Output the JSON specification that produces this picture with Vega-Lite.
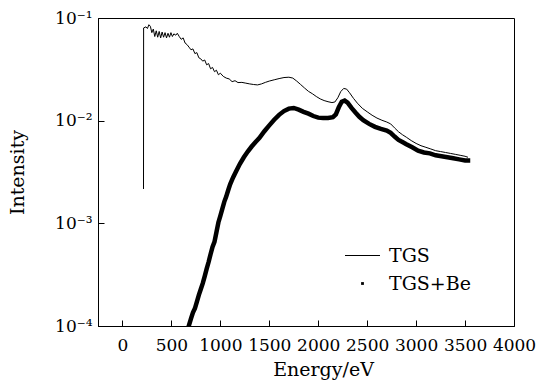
{
  "$schema": "https://vega.github.io/schema/vega-lite/v6.json",
  "width": 416,
  "height": 308,
  "autosize": {"type": "none"},
  "padding": {"left": 98, "top": 18, "right": 23, "bottom": 55},
  "background": "white",
  "config": {
    "view": {"stroke": "black", "strokeWidth": 1},
    "axis": {
      "grid": false,
      "domainColor": "black",
      "tickColor": "black",
      "tickSize": -6,
      "labelFont": "DejaVu Serif",
      "labelFontSize": 17,
      "labelColor": "black",
      "titleFont": "DejaVu Serif",
      "titleFontSize": 19,
      "titleFontWeight": "normal",
      "titleColor": "black",
      "labelFlush": false,
      "labelOverlap": false,
      "labelBound": false
    },
    "legend": {
      "labelFont": "DejaVu Serif",
      "labelFontSize": 19,
      "labelColor": "black"
    }
  },
  "datasets": {
    "spectra": [
      {"series": "TGS", "energy": 215, "intensity": 0.00216},
      {"series": "TGS", "energy": 216, "intensity": 0.080},
      {"series": "TGS", "energy": 240, "intensity": 0.082},
      {"series": "TGS", "energy": 255, "intensity": 0.079},
      {"series": "TGS", "energy": 270, "intensity": 0.086},
      {"series": "TGS", "energy": 285, "intensity": 0.083},
      {"series": "TGS", "energy": 300, "intensity": 0.072},
      {"series": "TGS", "energy": 315, "intensity": 0.078},
      {"series": "TGS", "energy": 330, "intensity": 0.066},
      {"series": "TGS", "energy": 345, "intensity": 0.075},
      {"series": "TGS", "energy": 360, "intensity": 0.065},
      {"series": "TGS", "energy": 375, "intensity": 0.074},
      {"series": "TGS", "energy": 390, "intensity": 0.064},
      {"series": "TGS", "energy": 405, "intensity": 0.073},
      {"series": "TGS", "energy": 420, "intensity": 0.065},
      {"series": "TGS", "energy": 435, "intensity": 0.072},
      {"series": "TGS", "energy": 450, "intensity": 0.064},
      {"series": "TGS", "energy": 465, "intensity": 0.071},
      {"series": "TGS", "energy": 480, "intensity": 0.065},
      {"series": "TGS", "energy": 495, "intensity": 0.072},
      {"series": "TGS", "energy": 510, "intensity": 0.066},
      {"series": "TGS", "energy": 525, "intensity": 0.070},
      {"series": "TGS", "energy": 545, "intensity": 0.068},
      {"series": "TGS", "energy": 560, "intensity": 0.071},
      {"series": "TGS", "energy": 580, "intensity": 0.066},
      {"series": "TGS", "energy": 600, "intensity": 0.062},
      {"series": "TGS", "energy": 620, "intensity": 0.064},
      {"series": "TGS", "energy": 640, "intensity": 0.057},
      {"series": "TGS", "energy": 660, "intensity": 0.055},
      {"series": "TGS", "energy": 680, "intensity": 0.052},
      {"series": "TGS", "energy": 700, "intensity": 0.049},
      {"series": "TGS", "energy": 720, "intensity": 0.050},
      {"series": "TGS", "energy": 740, "intensity": 0.045},
      {"series": "TGS", "energy": 760, "intensity": 0.046},
      {"series": "TGS", "energy": 780, "intensity": 0.041},
      {"series": "TGS", "energy": 800, "intensity": 0.040},
      {"series": "TGS", "energy": 820, "intensity": 0.038},
      {"series": "TGS", "energy": 840, "intensity": 0.039},
      {"series": "TGS", "energy": 860, "intensity": 0.035},
      {"series": "TGS", "energy": 880, "intensity": 0.036},
      {"series": "TGS", "energy": 900, "intensity": 0.032},
      {"series": "TGS", "energy": 920, "intensity": 0.033},
      {"series": "TGS", "energy": 940, "intensity": 0.030},
      {"series": "TGS", "energy": 960, "intensity": 0.031},
      {"series": "TGS", "energy": 980, "intensity": 0.028},
      {"series": "TGS", "energy": 1000, "intensity": 0.029},
      {"series": "TGS", "energy": 1030, "intensity": 0.027},
      {"series": "TGS", "energy": 1060, "intensity": 0.026},
      {"series": "TGS", "energy": 1090, "intensity": 0.0255},
      {"series": "TGS", "energy": 1120, "intensity": 0.024},
      {"series": "TGS", "energy": 1150, "intensity": 0.0245},
      {"series": "TGS", "energy": 1180, "intensity": 0.0235},
      {"series": "TGS", "energy": 1220, "intensity": 0.0236},
      {"series": "TGS", "energy": 1260, "intensity": 0.0232},
      {"series": "TGS", "energy": 1300, "intensity": 0.0228},
      {"series": "TGS", "energy": 1340, "intensity": 0.0225},
      {"series": "TGS", "energy": 1380, "intensity": 0.0223},
      {"series": "TGS", "energy": 1420, "intensity": 0.0228},
      {"series": "TGS", "energy": 1460, "intensity": 0.0236},
      {"series": "TGS", "energy": 1500, "intensity": 0.0243},
      {"series": "TGS", "energy": 1550, "intensity": 0.025},
      {"series": "TGS", "energy": 1600, "intensity": 0.0257},
      {"series": "TGS", "energy": 1650, "intensity": 0.0263},
      {"series": "TGS", "energy": 1700, "intensity": 0.0265},
      {"series": "TGS", "energy": 1740, "intensity": 0.026},
      {"series": "TGS", "energy": 1780, "intensity": 0.0243},
      {"series": "TGS", "energy": 1820, "intensity": 0.0225},
      {"series": "TGS", "energy": 1860, "intensity": 0.0208},
      {"series": "TGS", "energy": 1900, "intensity": 0.0193},
      {"series": "TGS", "energy": 1940, "intensity": 0.0183},
      {"series": "TGS", "energy": 1980, "intensity": 0.0172},
      {"series": "TGS", "energy": 2020, "intensity": 0.0163},
      {"series": "TGS", "energy": 2060, "intensity": 0.0157},
      {"series": "TGS", "energy": 2100, "intensity": 0.0153},
      {"series": "TGS", "energy": 2140, "intensity": 0.015},
      {"series": "TGS", "energy": 2170, "intensity": 0.0152},
      {"series": "TGS", "energy": 2200, "intensity": 0.0167},
      {"series": "TGS", "energy": 2230, "intensity": 0.0192},
      {"series": "TGS", "energy": 2260, "intensity": 0.0206},
      {"series": "TGS", "energy": 2290, "intensity": 0.0203},
      {"series": "TGS", "energy": 2320, "intensity": 0.0187},
      {"series": "TGS", "energy": 2360, "intensity": 0.0165},
      {"series": "TGS", "energy": 2400, "intensity": 0.0148},
      {"series": "TGS", "energy": 2450, "intensity": 0.0132},
      {"series": "TGS", "energy": 2500, "intensity": 0.0122},
      {"series": "TGS", "energy": 2550, "intensity": 0.0113},
      {"series": "TGS", "energy": 2600, "intensity": 0.0106},
      {"series": "TGS", "energy": 2650, "intensity": 0.0101},
      {"series": "TGS", "energy": 2700, "intensity": 0.0097},
      {"series": "TGS", "energy": 2740, "intensity": 0.0093},
      {"series": "TGS", "energy": 2780, "intensity": 0.0085},
      {"series": "TGS", "energy": 2820, "intensity": 0.0078},
      {"series": "TGS", "energy": 2860, "intensity": 0.0073},
      {"series": "TGS", "energy": 2900, "intensity": 0.0069},
      {"series": "TGS", "energy": 2950, "intensity": 0.0064},
      {"series": "TGS", "energy": 3000, "intensity": 0.0060},
      {"series": "TGS", "energy": 3050, "intensity": 0.0057},
      {"series": "TGS", "energy": 3100, "intensity": 0.0055},
      {"series": "TGS", "energy": 3150, "intensity": 0.0053},
      {"series": "TGS", "energy": 3200, "intensity": 0.0051},
      {"series": "TGS", "energy": 3250, "intensity": 0.0050},
      {"series": "TGS", "energy": 3300, "intensity": 0.0049},
      {"series": "TGS", "energy": 3350, "intensity": 0.0048},
      {"series": "TGS", "energy": 3400, "intensity": 0.0047},
      {"series": "TGS", "energy": 3450, "intensity": 0.0046},
      {"series": "TGS", "energy": 3500, "intensity": 0.0045},
      {"series": "TGS", "energy": 3530, "intensity": 0.0044},
      {"series": "TGS+Be", "energy": 670, "intensity": 0.000095},
      {"series": "TGS+Be", "energy": 700, "intensity": 0.000118},
      {"series": "TGS+Be", "energy": 720, "intensity": 0.000135},
      {"series": "TGS+Be", "energy": 740, "intensity": 0.000148},
      {"series": "TGS+Be", "energy": 760, "intensity": 0.000172},
      {"series": "TGS+Be", "energy": 780, "intensity": 0.0002},
      {"series": "TGS+Be", "energy": 800, "intensity": 0.000228},
      {"series": "TGS+Be", "energy": 820, "intensity": 0.00026},
      {"series": "TGS+Be", "energy": 840, "intensity": 0.000305},
      {"series": "TGS+Be", "energy": 860, "intensity": 0.00036},
      {"series": "TGS+Be", "energy": 880, "intensity": 0.00042},
      {"series": "TGS+Be", "energy": 900, "intensity": 0.0005},
      {"series": "TGS+Be", "energy": 920, "intensity": 0.00059},
      {"series": "TGS+Be", "energy": 940, "intensity": 0.00066},
      {"series": "TGS+Be", "energy": 960, "intensity": 0.00082},
      {"series": "TGS+Be", "energy": 980, "intensity": 0.00102},
      {"series": "TGS+Be", "energy": 1000, "intensity": 0.00118},
      {"series": "TGS+Be", "energy": 1020, "intensity": 0.00138},
      {"series": "TGS+Be", "energy": 1040, "intensity": 0.00162},
      {"series": "TGS+Be", "energy": 1060, "intensity": 0.00182},
      {"series": "TGS+Be", "energy": 1080, "intensity": 0.0021},
      {"series": "TGS+Be", "energy": 1100, "intensity": 0.0024},
      {"series": "TGS+Be", "energy": 1130, "intensity": 0.0028},
      {"series": "TGS+Be", "energy": 1160, "intensity": 0.0032},
      {"series": "TGS+Be", "energy": 1200, "intensity": 0.0038},
      {"series": "TGS+Be", "energy": 1240, "intensity": 0.0044},
      {"series": "TGS+Be", "energy": 1280, "intensity": 0.005},
      {"series": "TGS+Be", "energy": 1320, "intensity": 0.0056},
      {"series": "TGS+Be", "energy": 1360, "intensity": 0.0062},
      {"series": "TGS+Be", "energy": 1400, "intensity": 0.0068},
      {"series": "TGS+Be", "energy": 1450, "intensity": 0.0079},
      {"series": "TGS+Be", "energy": 1500, "intensity": 0.009},
      {"series": "TGS+Be", "energy": 1550, "intensity": 0.0102},
      {"series": "TGS+Be", "energy": 1600, "intensity": 0.0114},
      {"series": "TGS+Be", "energy": 1650, "intensity": 0.0124},
      {"series": "TGS+Be", "energy": 1700, "intensity": 0.0131},
      {"series": "TGS+Be", "energy": 1750, "intensity": 0.0133},
      {"series": "TGS+Be", "energy": 1800, "intensity": 0.0128},
      {"series": "TGS+Be", "energy": 1850, "intensity": 0.0122},
      {"series": "TGS+Be", "energy": 1900, "intensity": 0.0117},
      {"series": "TGS+Be", "energy": 1950, "intensity": 0.0111},
      {"series": "TGS+Be", "energy": 2000, "intensity": 0.0107},
      {"series": "TGS+Be", "energy": 2050, "intensity": 0.0106},
      {"series": "TGS+Be", "energy": 2100, "intensity": 0.0106},
      {"series": "TGS+Be", "energy": 2150, "intensity": 0.0108},
      {"series": "TGS+Be", "energy": 2180, "intensity": 0.0115},
      {"series": "TGS+Be", "energy": 2210, "intensity": 0.0135},
      {"series": "TGS+Be", "energy": 2240, "intensity": 0.0153},
      {"series": "TGS+Be", "energy": 2270, "intensity": 0.0157},
      {"series": "TGS+Be", "energy": 2300, "intensity": 0.015},
      {"series": "TGS+Be", "energy": 2340, "intensity": 0.0133},
      {"series": "TGS+Be", "energy": 2380, "intensity": 0.012},
      {"series": "TGS+Be", "energy": 2420, "intensity": 0.0109},
      {"series": "TGS+Be", "energy": 2460, "intensity": 0.0101},
      {"series": "TGS+Be", "energy": 2520, "intensity": 0.0093},
      {"series": "TGS+Be", "energy": 2580, "intensity": 0.0087},
      {"series": "TGS+Be", "energy": 2640, "intensity": 0.0083},
      {"series": "TGS+Be", "energy": 2700, "intensity": 0.008},
      {"series": "TGS+Be", "energy": 2740, "intensity": 0.0076},
      {"series": "TGS+Be", "energy": 2780, "intensity": 0.007},
      {"series": "TGS+Be", "energy": 2820, "intensity": 0.0065},
      {"series": "TGS+Be", "energy": 2860, "intensity": 0.0062},
      {"series": "TGS+Be", "energy": 2900, "intensity": 0.0059},
      {"series": "TGS+Be", "energy": 2960, "intensity": 0.0055},
      {"series": "TGS+Be", "energy": 3020, "intensity": 0.0051},
      {"series": "TGS+Be", "energy": 3080, "intensity": 0.0049},
      {"series": "TGS+Be", "energy": 3140, "intensity": 0.0048},
      {"series": "TGS+Be", "energy": 3200, "intensity": 0.0046},
      {"series": "TGS+Be", "energy": 3260, "intensity": 0.0045},
      {"series": "TGS+Be", "energy": 3320, "intensity": 0.0044},
      {"series": "TGS+Be", "energy": 3380, "intensity": 0.0043},
      {"series": "TGS+Be", "energy": 3440, "intensity": 0.0042},
      {"series": "TGS+Be", "energy": 3500, "intensity": 0.0041},
      {"series": "TGS+Be", "energy": 3530, "intensity": 0.0041}
    ]
  },
  "data": {"name": "spectra"},
  "encoding": {
    "x": {
      "field": "energy",
      "type": "quantitative",
      "scale": {"domain": [-250, 4000], "nice": false, "zero": false},
      "axis": {
        "title": "Energy/eV",
        "values": [0, 500, 1000, 1500, 2000, 2500, 3000, 3500, 4000],
        "format": "d",
        "labelPadding": 17,
        "titlePadding": 7,
        "titleX": 225
      }
    },
    "y": {
      "field": "intensity",
      "type": "quantitative",
      "scale": {"type": "log", "domain": [0.0001, 0.1], "nice": false},
      "axis": {
        "title": "Intensity",
        "values": [0.0001, 0.001, 0.01, 0.1],
        "labelExpr": "datum.value >= 0.09 ? '10⁻¹' : datum.value >= 0.009 ? '10⁻²' : datum.value >= 0.0009 ? '10⁻³' : '10⁻⁴'",
        "labelPadding": 12,
        "titlePadding": 27
      }
    }
  },
  "layer": [
    {
      "transform": [{"filter": "datum.series === 'TGS'"}],
      "mark": {"type": "line", "color": "black", "strokeWidth": 1, "clip": true}
    },
    {
      "transform": [{"filter": "datum.series === 'TGS+Be'"}],
      "mark": {"type": "line", "color": "black", "strokeWidth": 4.5, "strokeCap": "square", "clip": true}
    },
    {
      "mark": {"type": "point", "opacity": 0, "filled": true, "color": "black", "strokeWidth": 0, "clip": true},
      "encoding": {
        "shape": {
          "field": "series",
          "type": "nominal",
          "scale": {"domain": ["TGS", "TGS+Be"], "range": ["M-2,-0.065L2,-0.065L2,0.065L-2,0.065Z", "M-0.16,-0.16L0.16,-0.16L0.16,0.16L-0.16,0.16Z"]},
          "legend": {
            "title": null,
            "orient": "none",
            "legendX": 255,
            "legendY": 228,
            "symbolSize": 306,
            "labelOffset": 17,
            "rowPadding": 8,
            "symbolStrokeColor": "black",
            "symbolFillColor": "black",
            "symbolStrokeWidth": 0,
            "encode": {
              "symbols": {
                "update": {
                  "fill": {"value": "black"},
                  "stroke": {"value": "black"},
                  "strokeWidth": {"value": 0},
                  "opacity": {"value": 1},
                  "fillOpacity": {"value": 1}
                }
              }
            }
          }
        }
      }
    }
  ]
}
